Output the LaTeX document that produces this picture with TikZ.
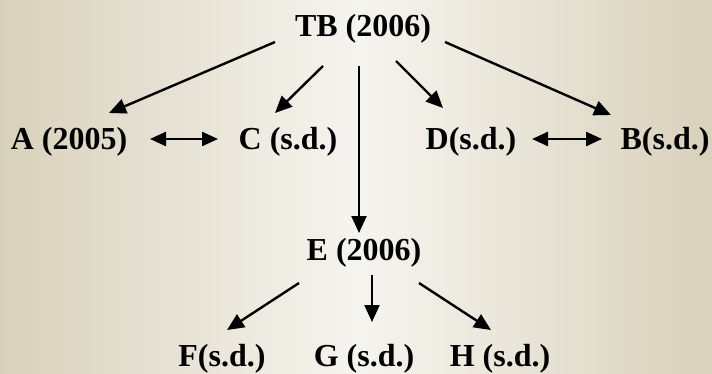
\documentclass[tikz,border=0pt]{standalone}
\usepackage{fontspec}
\setmainfont{Liberation Serif}
\usetikzlibrary{arrows.meta}
\definecolor{bgedge}{HTML}{D8D1BB}
\definecolor{bgmid}{HTML}{F6F4EF}
\begin{document}
\begin{tikzpicture}[x=0.5pt,y=-0.5pt,
  lbl/.style={anchor=base,inner sep=0pt,font=\fontsize{16pt}{19pt}\selectfont\bfseries},
  arr/.style={line width=1.2pt,-{Triangle[length=8.5pt,width=7.5pt]}},
  darr/.style={line width=1.2pt,{Triangle[length=8pt,width=7pt]}-{Triangle[length=8pt,width=7pt]}}]
\useasboundingbox (0,0) rectangle (712,374);
\shade[left color=bgedge,right color=bgmid] (0,0) rectangle (360,374);
\shade[left color=bgmid,right color=bgedge] (359.5,0) rectangle (712,374);
\node[lbl] (tb) at (363,37) {TB (2006)};
\node[lbl] (a) at (69,149) {A (2005)};
\node[lbl] (c) at (288,149) {C (s.d.)};
\node[lbl] (d) at (471,149) {D(s.d.)};
\node[lbl] (b) at (665,149) {B(s.d.)};
\node[lbl] (e) at (364,260) {E (2006)};
\node[lbl] (f) at (222,366) {F(s.d.)};
\node[lbl] (g) at (364,366) {G (s.d.)};
\node[lbl] (h) at (500,366) {H (s.d.)};
\draw[arr] ([shift={(-88,5)}]tb.base) -- ([shift={(40,-36)}]a.base);
\draw[arr] ([shift={(-40,29)}]tb.base) -- ([shift={(-13,-36)}]c.base);
\draw[arr] ([shift={(-4,29)}]tb.base) -- ([shift={(-5,-27)}]e.base);
\draw[arr] ([shift={(33,24)}]tb.base) -- ([shift={(-28,-41)}]d.base);
\draw[arr] ([shift={(82,5)}]tb.base) -- ([shift={(-54,-34)}]b.base);
\draw[darr] ([shift={(81,-10)}]a.base) -- ([shift={(-70,-10)}]c.base);
\draw[darr] ([shift={(61,-10)}]d.base) -- ([shift={(-63,-10)}]b.base);
\draw[arr] ([shift={(-65,23)}]e.base) -- ([shift={(5,-36)}]f.base);
\draw[arr] ([shift={(8,15)}]e.base) -- ([shift={(8,-44)}]g.base);
\draw[arr] ([shift={(55,23)}]e.base) -- ([shift={(-9,-36)}]h.base);
\end{tikzpicture}
\end{document}
